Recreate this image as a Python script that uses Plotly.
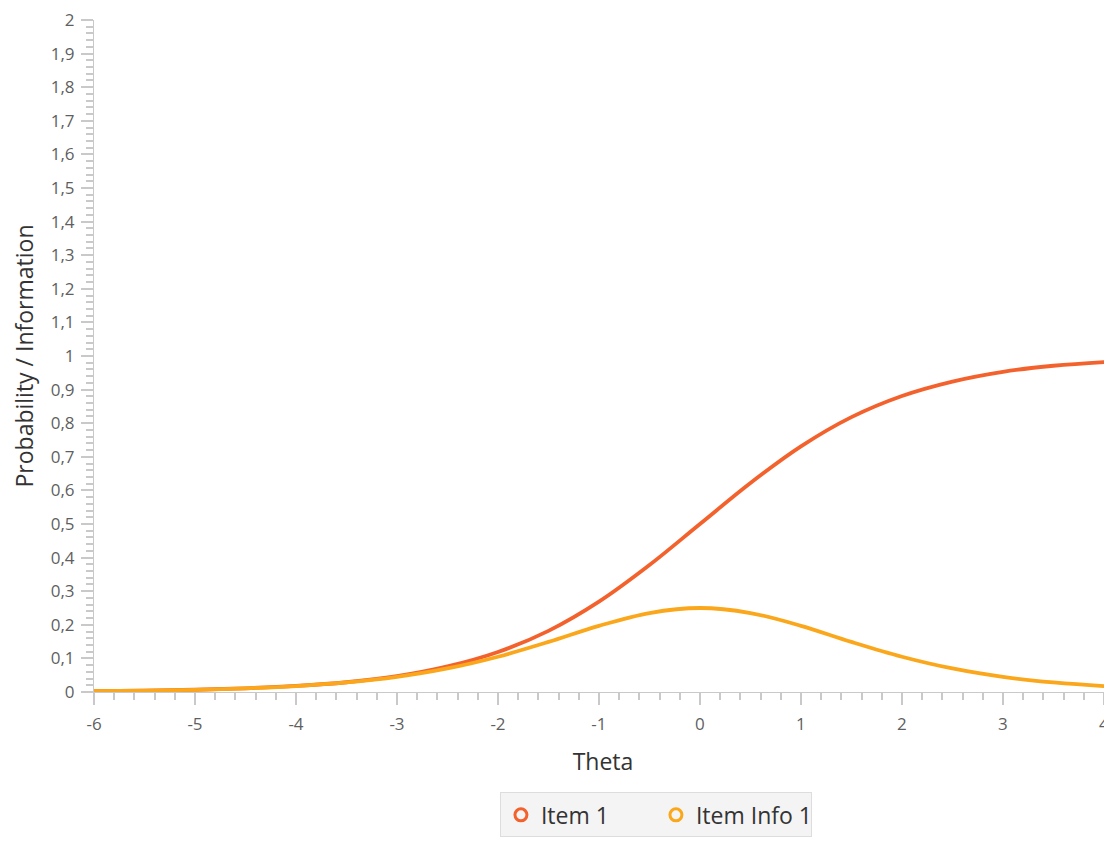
import plotly.graph_objects as go

theta = [-6, -5.5, -5, -4.5, -4, -3.5, -3, -2.5, -2, -1.5, -1, -0.5, 0,
         0.5, 1, 1.5, 2, 2.5, 3, 3.5, 4, 4.5]
item1 = [0.0025, 0.004, 0.0067, 0.011, 0.018, 0.029, 0.047, 0.076, 0.119,
         0.182, 0.269, 0.378, 0.5, 0.622, 0.731, 0.818, 0.881, 0.924, 0.953,
         0.971, 0.982, 0.989]
info1 = [0.0025, 0.004, 0.0066, 0.011, 0.0177, 0.0285, 0.045, 0.070, 0.105,
         0.149, 0.197, 0.235, 0.25, 0.235, 0.197, 0.149, 0.105, 0.070, 0.045,
         0.0285, 0.0177, 0.011]

series_names = ["Item 1", "Item Info 1"]
colors = ["#f3622d", "#fba71b"]

x_tickvals = [-6, -5, -4, -3, -2, -1, 0, 1, 2, 3, 4]
x_ticktext = ["-6", "-5", "-4", "-3", "-2", "-1", "0", "1", "2", "3", "4"]
y_tickvals = [round(i * 0.1, 1) for i in range(21)]
y_ticktext = ["0", "0,1", "0,2", "0,3", "0,4", "0,5", "0,6", "0,7", "0,8", "0,9",
              "1", "1,1", "1,2", "1,3", "1,4", "1,5", "1,6", "1,7", "1,8", "1,9", "2"]

fig = go.Figure()
for ys, name, c in zip([item1, info1], series_names, colors):
    fig.add_trace(go.Scatter(x=theta, y=ys, mode="lines", name=name,
                             line=dict(color=c, width=3.8, shape="spline", smoothing=1.0),
                             showlegend=False, hoverinfo="x+y"))
for name, c in zip(series_names, colors):
    fig.add_trace(go.Scatter(x=[None], y=[None], mode="markers", name=name,
                             marker=dict(symbol="circle-open", size=12, color=c,
                                         line=dict(width=3, color=c))))

axis_col = "#c9c9c9"
fam = "Open Sans, Noto Sans, sans-serif"
tick_font = dict(family=fam, size=17, color="#5f5f5f")
title_font = dict(family=fam, size=23, color="#333333")

fig.update_layout(
    width=1104, height=834,
    margin=dict(l=86, r=0, t=8, b=150),
    paper_bgcolor="white", plot_bgcolor="white",
    font=dict(family=fam, color="#333333"),
    showlegend=True,
    legend=dict(orientation="h", x=0.552, xanchor="center", y=-0.1494, yanchor="top",
                bgcolor="#f4f4f4", bordercolor="#dddddd", borderwidth=1,
                font=dict(size=23, color="#333333"), itemwidth=30,
                entrywidth=110, entrywidthmode="pixels"),
    xaxis=dict(range=[-6, 4.08], tickvals=x_tickvals, ticktext=x_ticktext,
               showgrid=False, zeroline=False, showline=True, linecolor=axis_col,
               linewidth=1, ticks="outside", ticklen=12, tickcolor=axis_col,
               tickwidth=1.5, tickfont=tick_font, ticklabelstandoff=5,
               ticklabeloverflow="allow",
               minor=dict(dtick=0.2, ticks="outside", ticklen=7, tickcolor=axis_col,
                          tickwidth=1.5, showgrid=False),
               title=dict(text="Theta", font=title_font, standoff=19)),
    yaxis=dict(range=[0, 2], tickvals=y_tickvals, ticktext=y_ticktext,
               showgrid=False, zeroline=False, showline=True, linecolor=axis_col,
               linewidth=1, ticks="outside", ticklen=12, tickcolor=axis_col,
               tickwidth=1.5, tickfont=tick_font, ticklabelstandoff=3,
               ticklabeloverflow="allow",
               minor=dict(dtick=0.02, ticks="outside", ticklen=7, tickcolor=axis_col,
                          tickwidth=1.5, showgrid=False),
               title=dict(text="Probability / Information", font=title_font,
                          standoff=12)),
)

fig.write_html("out.html")
